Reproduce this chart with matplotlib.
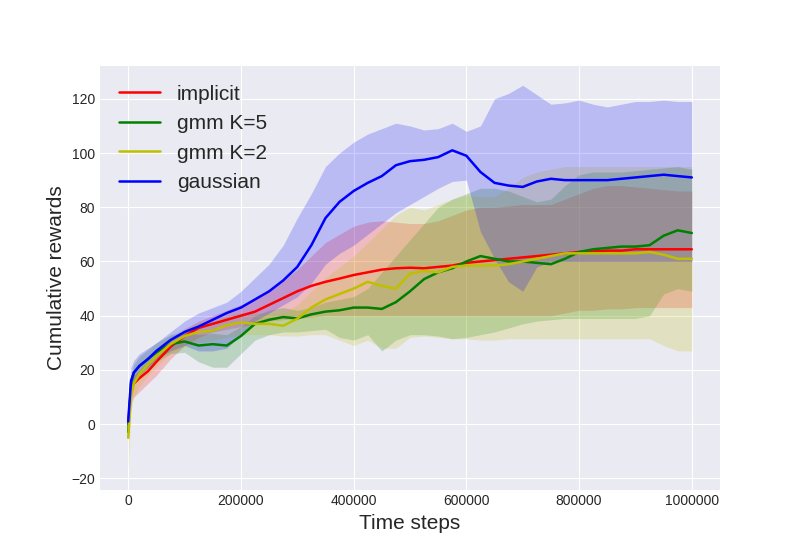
import numpy as np
import matplotlib
matplotlib.use("Agg")
import matplotlib.pyplot as plt

steps_k = [0, 5, 10, 20, 35, 50, 75, 100, 125, 150, 175, 200, 225, 250, 275, 300, 325, 350, 375, 400,
           425, 450, 475, 500, 525, 550, 575, 600, 625, 650, 675, 700, 725, 750, 775, 800, 825, 850,
           875, 900, 925, 950, 975, 1000]

# implicit
implicit_mean = [0, 13, 15, 17, 19.5, 23, 28.5, 32.5, 35.5, 37, 38.5, 40, 41.5, 44, 46.5, 49, 51, 52.5, 53.7, 55,
                 56, 57, 57.5, 57.7, 57.5, 58, 58.5, 59.5, 60, 60.5, 61, 61.5, 62, 62.5, 63, 63.5, 63.7, 64,
                 64, 64.5, 64.5, 64.5, 64.5, 64.5]
implicit_hi = [1, 16, 18, 20, 23, 26, 31, 35, 38, 40, 42, 44, 46, 49, 53, 57, 62, 67, 70, 73,
               74.5, 75, 74.5, 74, 74, 75, 77, 79, 80, 80, 80.5, 81, 81, 81, 83, 85, 87, 88,
               88, 87.5, 87, 86.5, 86, 86]
implicit_lo = [-1, 8, 10, 12, 15, 18, 24, 29, 32, 34, 35, 36, 37, 38, 38.5, 39, 39.5, 40, 40, 40,
               40, 40, 40, 40, 40, 40, 40, 40, 40, 40, 40, 40, 40, 40, 41, 42, 42, 42.5,
               42.5, 43, 43, 43, 43, 43]

# gmm K=5
gmm5_mean = [-3, 15, 19, 21.5, 24, 26.5, 29.5, 30.5, 29, 29.5, 29, 32.5, 37, 38.5, 39.5, 39, 40.5, 41.5, 42, 43,
             43, 42.5, 45, 49, 53.5, 56, 57.5, 60, 62, 61, 60, 60, 59.5, 59, 61, 63.5, 64.5, 65,
             65.5, 65.5, 66, 69.5, 71.5, 70.5]
gmm5_hi = [-2, 18, 22, 25, 27.5, 30, 33, 34, 33, 33.5, 33, 36, 40, 42, 43, 42, 43, 45, 46, 47,
           50, 56, 62, 68, 74, 80, 83, 85, 87, 87, 86, 84, 82, 83, 88, 92, 93, 93,
           93, 93.5, 94, 94.5, 95, 94]
gmm5_lo = [-5, 12, 16, 18, 20.5, 23, 26, 26.5, 23, 21, 21, 26, 31, 33, 34, 34, 34.5, 35, 32, 31,
           33, 27, 31, 33, 33, 32.5, 31.5, 32, 33, 34, 35.5, 37, 38, 38.5, 39, 39, 39, 39,
           39, 39, 40, 48, 50, 49]

# gmm K=2
gmm2_mean = [-5, 10, 15, 18.5, 22, 25, 29.5, 32.5, 34, 34.5, 36.5, 37.5, 37, 37, 36.3, 38.9, 43, 46, 48, 50,
             52.5, 51, 50, 55.5, 56.5, 56, 58, 58.5, 58.5, 58.5, 59, 60, 61, 62, 63, 63, 63, 63,
             63, 63, 63.5, 62.5, 61, 61]
gmm2_hi = [-3, 13, 18, 21, 25, 28, 32.5, 35.5, 37.5, 38, 40, 41, 41, 41, 41, 44, 49, 54, 58, 62,
           67, 72, 77, 80, 79, 81, 83, 84.5, 84, 84, 87, 91, 93, 94, 95, 95, 95, 95,
           95, 95, 95, 95, 95, 95]
gmm2_lo = [-17, 5, 10, 14, 18, 21, 26, 29, 30, 31, 32, 33, 33, 33, 32.5, 32.5, 33, 33, 31, 29,
           31, 28, 28, 32, 32.5, 32, 31.5, 31.5, 31, 31, 31.5, 31.5, 31.5, 31.5, 31.5, 31.5, 31.5, 31.5,
           31.5, 31.5, 31.5, 29, 27, 27]

# gaussian
gauss_mean = [1, 16, 19, 21.5, 24, 27, 31, 34, 36, 38.5, 41, 43, 46, 49, 53, 58, 66, 76, 82, 86,
              89, 91.5, 95.5, 97, 97.5, 98.5, 101, 99, 93, 89, 88, 87.5, 89.5, 90.5, 90, 90, 90, 90,
              90.5, 91, 91.5, 92, 91.5, 91]
gauss_hi = [2, 21, 23.5, 26, 28, 30, 34, 38, 41, 43, 45, 49, 54, 59, 66, 76, 85, 95, 100, 104,
            107, 109, 111, 110, 108.5, 109, 111, 108, 110, 120, 122, 125, 121.5, 118, 118.5, 119.5, 118, 117,
            118, 119, 119, 119.5, 119, 119]
gauss_lo = [0, 12, 15, 18, 21, 24, 27, 29, 27, 27, 28, 33, 38, 41, 44, 47, 52, 59, 63, 66,
            70, 74, 78, 81, 84, 87, 89.5, 90, 71, 61, 52.5, 49, 58, 60, 60, 60, 60, 60,
            60, 60, 60, 60, 60, 60]

series = [
    ("implicit", "r", implicit_mean, implicit_lo, implicit_hi),
    ("gmm K=5", "g", gmm5_mean, gmm5_lo, gmm5_hi),
    ("gmm K=2", "y", gmm2_mean, gmm2_lo, gmm2_hi),
    ("gaussian", "b", gauss_mean, gauss_lo, gauss_hi),
]

plt.style.use("seaborn-v0_8-darkgrid")
fig, ax = plt.subplots(figsize=(8, 5.5), dpi=100)

t = np.array(steps_k) * 1000
for name, c, mean, lo, hi in series:
    ax.plot(t, mean, color=c, linewidth=1.8, label=name)
    ax.fill_between(t, lo, hi, color=c, alpha=0.2, linewidth=0)

ax.ticklabel_format(style="plain", axis="x")
ax.set_xlabel("Time steps", fontsize=15)
ax.set_ylabel("Cumulative rewards", fontsize=15)
ax.legend(loc="upper left", fontsize=15)

fig.savefig("out.png", dpi=100)
